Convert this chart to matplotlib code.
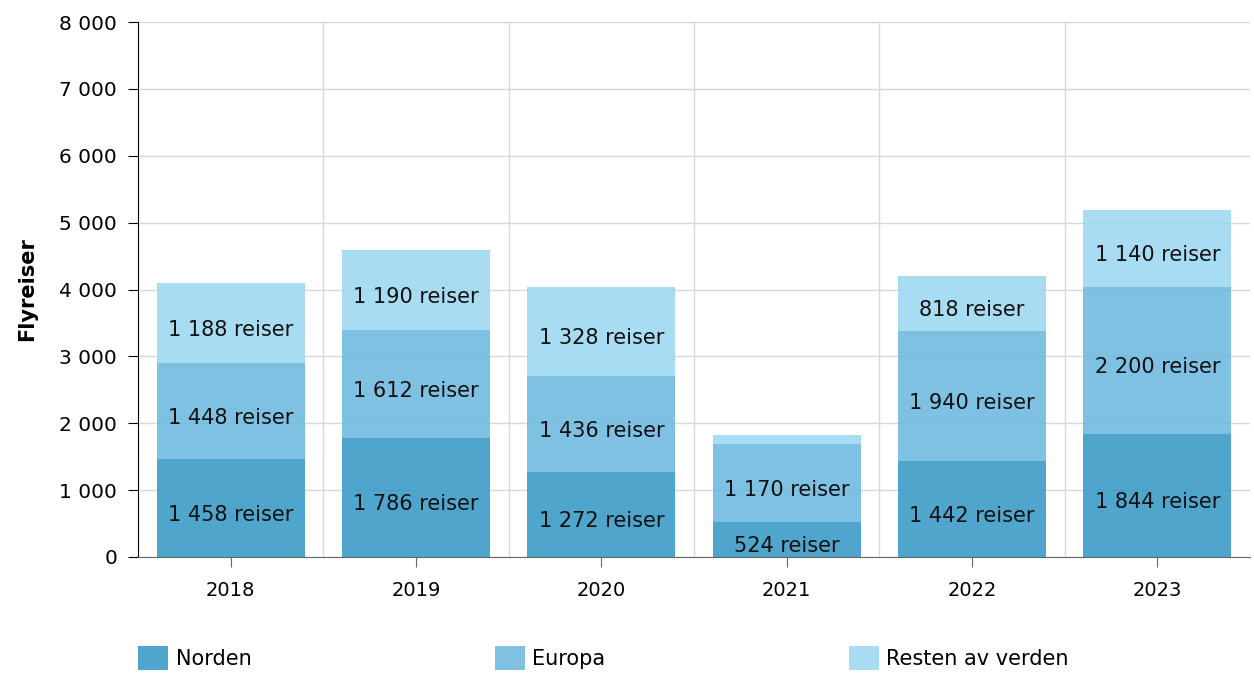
import matplotlib.pyplot as plt
import numpy as np

years = ['2018', '2019', '2020', '2021', '2022', '2023']
norden = [1458, 1786, 1272, 524, 1442, 1844]
europa = [1448, 1612, 1436, 1170, 1940, 2200]
resten = [1188, 1190, 1328, 130, 818, 1140]  # 2021 har ingen etikett, anslått

def fmt(v):
    return f'{v:,}'.replace(',', ' ')

plt.rcParams['font.family'] = 'DejaVu Sans'

fig = plt.figure(figsize=(12.54, 6.73), dpi=100)
ax = fig.add_axes([138 / 1254, 1 - 557 / 673, 1112 / 1254, 535 / 673])

x = np.arange(len(years))
farger = ['#3096c4', '#69b7de', '#99d6f1']
serier = [('Norden', norden), ('Europa', europa), ('Resten av verden', resten)]

bunn = np.zeros(len(years))
for (navn, verdier), farge in zip(serier, farger):
    ax.bar(x, verdier, width=0.8, bottom=bunn, color=farge, alpha=0.85,
           label=navn, zorder=2, linewidth=0)
    for xi, b, v in zip(x, bunn, verdier):
        if v >= 300:
            ax.annotate(f'{fmt(v)} reiser', (xi, b + v / 2), xytext=(0, -5),
                        textcoords='offset points', ha='center', va='center',
                        fontsize=15, color='#111111', zorder=3)
    bunn += np.array(verdier)

ax.set_xlim(-0.5, len(years) - 0.5)
ax.set_ylim(0, 8000)
ax.set_yticks(range(0, 8001, 1000))
ax.set_yticklabels([fmt(v) for v in range(0, 8001, 1000)], fontsize=14.5)
ax.set_xticks(x)
ax.set_xticklabels(years, fontsize=14)
ax.set_xticks(np.arange(0.5, len(years) - 1, 1), minor=True)
ax.tick_params(axis='x', which='minor', length=0)
ax.tick_params(axis='x', which='major', length=7, color='#666666', pad=10)
ax.tick_params(axis='y', length=7, color='black', pad=8)

ax.grid(axis='y', color='#d8d8d8', linewidth=1, zorder=0)
ax.grid(axis='x', which='minor', color='#d8d8d8', linewidth=1, zorder=0)
ax.set_axisbelow(True)

ax.spines['top'].set_visible(False)
ax.spines['right'].set_visible(False)
ax.spines['left'].set_color('black')
ax.spines['bottom'].set_color('#666666')

ax.set_ylabel('Flyreiser', fontsize=15, fontweight='bold', labelpad=16)

# legend: tre separate oppføringer plassert som i originalen
handles, labels = ax.get_legend_handles_labels()
for h, lab, xpos in zip(handles, labels, [138, 495, 849]):
    fig.legend([h], [lab], loc='center left',
               bbox_to_anchor=(xpos / 1254, 1 - 658 / 673),
               frameon=False, fontsize=15, handlelength=1.45,
               handleheight=1.45, handletextpad=0.35, borderaxespad=0,
               borderpad=0)

fig.savefig('out.png', dpi=100)
